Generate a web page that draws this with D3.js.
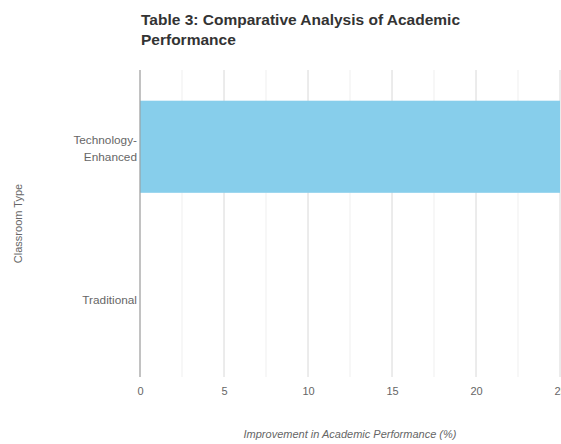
<!DOCTYPE html>
<html>
<head>
<meta charset="utf-8">
<script src="https://cdn.jsdelivr.net/npm/d3@7"></script>
<style>
  html, body { margin: 0; padding: 0; background: #fff; }
  svg { display: block; font-family: "Liberation Sans", Arial, sans-serif; }
</style>
</head>
<body>
<svg id="chart" width="561" height="444"></svg>
<script>
// Data
const categories = ["Technology-Enhanced", "Traditional"];
const improvement = [25, 0];
const xTicks = [0, 5, 10, 15, 20, 25];
const minorTicks = [2.5, 7.5, 12.5, 17.5, 22.5];

const W = 561, H = 444;
const margin = { top: 70, right: 1, bottom: 67, left: 140 };
const innerW = W - margin.left - margin.right;
const innerH = H - margin.top - margin.bottom;

const svg = d3.select("#chart");
const g = svg.append("g").attr("transform", `translate(${margin.left},${margin.top})`);

const x = d3.scaleLinear().domain([0, 25]).range([0, innerW]);
const y = d3.scaleBand().domain(categories).range([0, innerH])
  .paddingInner(0.4).paddingOuter(0.2);

// Minor grid
g.append("g").selectAll("line").data(minorTicks).join("line")
  .attr("x1", d => x(d)).attr("x2", d => x(d))
  .attr("y1", 0).attr("y2", innerH)
  .attr("stroke", "#efefef").attr("stroke-width", 1);

// Major grid
g.append("g").selectAll("line").data(xTicks).join("line")
  .attr("x1", d => x(d)).attr("x2", d => x(d))
  .attr("y1", 0).attr("y2", innerH)
  .attr("stroke", "#d8d8d8").attr("stroke-width", 1);

// Bars
g.append("g").selectAll("rect").data(categories).join("rect")
  .attr("x", x(0))
  .attr("y", d => y(d))
  .attr("width", (d, i) => x(improvement[i]) - x(0))
  .attr("height", y.bandwidth())
  .attr("fill", "#87ceeb");

// Zero line
g.append("line")
  .attr("x1", x(0)).attr("x2", x(0))
  .attr("y1", 0).attr("y2", innerH)
  .attr("stroke", "#999").attr("stroke-width", 1);

// X tick labels
const xAxis = d3.axisBottom(x).tickValues(xTicks).tickSize(0).tickPadding(10);
const xg = g.append("g").attr("transform", `translate(0,${innerH})`).call(xAxis);
xg.select(".domain").remove();
xg.selectAll("text").attr("fill", "#666").style("font-size", "11px")
  .style("font-family", "'Liberation Sans', Arial, sans-serif");

// Y tick labels (wrapped on hyphen)
const yAxis = d3.axisLeft(y).tickSize(0).tickPadding(3);
const yg = g.append("g").call(yAxis);
yg.select(".domain").remove();
yg.selectAll("text").attr("fill", "#666").style("font-size", "11.8px")
  .style("font-family", "'Liberation Sans', Arial, sans-serif")
  .each(function(d) {
    const parts = d.includes("-") ? [d.split("-")[0] + "-", d.split("-")[1]] : [d];
    const t = d3.select(this);
    if (parts.length > 1) {
      t.text(null).attr("dy", null);
      parts.forEach((p, i) => {
        t.append("tspan").attr("x", -3)
          .attr("dy", i === 0 ? "-0.25em" : "1.45em")
          .text(p);
      });
    }
  });

// Title
const title = svg.append("text")
  .attr("x", 141).attr("y", 25)
  .attr("fill", "#333")
  .style("font-size", "15.5px").style("font-weight", "bold");
title.append("tspan").attr("x", 141).text("Table 3: Comparative Analysis of Academic");
title.append("tspan").attr("x", 141).attr("dy", 20).text("Performance");

// Axis titles
svg.append("text")
  .attr("x", margin.left + innerW / 2).attr("y", 438)
  .attr("text-anchor", "middle").attr("fill", "#666")
  .style("font-size", "11px").style("font-style", "italic")
  .text("Improvement in Academic Performance (%)");

svg.append("text")
  .attr("transform", `translate(22,${margin.top + innerH / 2}) rotate(-90)`)
  .attr("text-anchor", "middle").attr("fill", "#666")
  .style("font-size", "11px")
  .text("Classroom Type");
</script>
</body>
</html>
